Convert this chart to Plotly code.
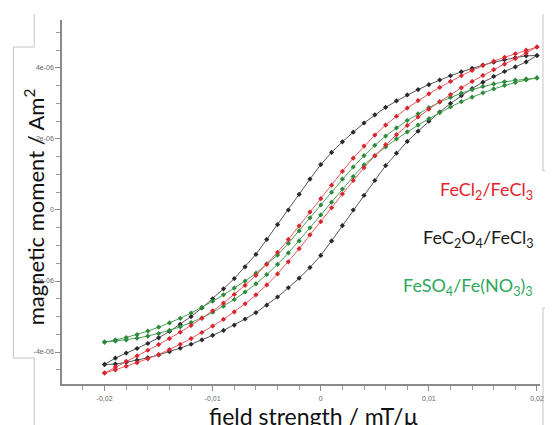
import plotly.graph_objects as go

# field strength grid (as on the axis)
field = [-0.020, -0.019, -0.018, -0.017, -0.016, -0.015, -0.014, -0.013, -0.012, -0.011,
         -0.010, -0.009, -0.008, -0.007, -0.006, -0.005, -0.004, -0.003, -0.002, -0.001,
         0.000, 0.001, 0.002, 0.003, 0.004, 0.005, 0.006, 0.007, 0.008, 0.009,
         0.010, 0.011, 0.012, 0.013, 0.014, 0.015, 0.016, 0.017, 0.018, 0.019, 0.020]

# magnetic moment in units of 1e-6 Am^2
# FeCl2/FeCl3 (red)
red_upper = [-4.59, -4.42, -4.26, -4.11, -3.95, -3.79, -3.62, -3.44, -3.25, -3.05,
             -2.84, -2.62, -2.38, -2.12, -1.84, -1.53, -1.19, -0.83, -0.45, -0.06,
             0.32, 0.70, 1.09, 1.46, 1.80, 2.11, 2.39, 2.64, 2.87, 3.08,
             3.27, 3.45, 3.62, 3.78, 3.93, 4.07, 4.19, 4.30, 4.40, 4.50, 4.59]
red_lower = [-4.59, -4.50, -4.40, -4.30, -4.19, -4.07, -3.93, -3.78, -3.62, -3.45,
             -3.27, -3.08, -2.87, -2.64, -2.39, -2.11, -1.80, -1.46, -1.09, -0.70,
             -0.33, 0.06, 0.45, 0.83, 1.19, 1.53, 1.84, 2.12, 2.38, 2.62,
             2.84, 3.05, 3.25, 3.44, 3.62, 3.79, 3.95, 4.11, 4.26, 4.42, 4.59]

# FeC2O4/FeCl3 (black)
black_upper = [-4.35, -4.17, -4.03, -3.90, -3.76, -3.60, -3.42, -3.22, -3.00, -2.76,
               -2.50, -2.22, -1.93, -1.60, -1.25, -0.83, -0.41, 0.00, 0.44, 0.87,
               1.28, 1.62, 1.92, 2.19, 2.45, 2.68, 2.89, 3.07, 3.24, 3.39,
               3.53, 3.66, 3.78, 3.89, 3.99, 4.08, 4.16, 4.23, 4.29, 4.34, 4.35]
black_lower = [-4.35, -4.34, -4.29, -4.23, -4.16, -4.08, -3.99, -3.89, -3.78, -3.66,
               -3.53, -3.39, -3.24, -3.07, -2.89, -2.68, -2.45, -2.19, -1.92, -1.62,
               -1.28, -0.87, -0.44, 0.00, 0.41, 0.83, 1.25, 1.60, 1.93, 2.22,
               2.50, 2.76, 3.00, 3.22, 3.42, 3.60, 3.76, 3.90, 4.03, 4.17, 4.35]

# FeSO4/Fe(NO3)3 (green)
green_upper = [-3.72, -3.66, -3.59, -3.51, -3.41, -3.30, -3.18, -3.05, -2.90, -2.74,
               -2.57, -2.39, -2.20, -2.00, -1.78, -1.52, -1.27, -0.94, -0.59, -0.22,
               0.14, 0.50, 0.87, 1.21, 1.53, 1.82, 2.08, 2.31, 2.52, 2.71,
               2.88, 3.04, 3.17, 3.29, 3.39, 3.48, 3.55, 3.61, 3.66, 3.69, 3.72]
green_lower = [-3.72, -3.69, -3.66, -3.61, -3.55, -3.48, -3.39, -3.29, -3.17, -3.04,
               -2.88, -2.71, -2.52, -2.31, -2.08, -1.82, -1.53, -1.21, -0.87, -0.50,
               -0.14, 0.22, 0.59, 0.94, 1.27, 1.52, 1.78, 2.00, 2.20, 2.39,
               2.57, 2.74, 2.90, 3.05, 3.18, 3.30, 3.41, 3.51, 3.59, 3.66, 3.72]

x_tickvals = [-0.02, -0.01, 0, 0.01, 0.02]
x_ticktext = ["-0,02", "-0,01", "0", "0,01", "0,02"]
y_tickvals = [-4, -2, 0, 2, 4]
y_ticktext = ["-4e-06", "-2e-06", "0", "2e-06", "4e-06"]

legend_labels = ["FeCl<sub>2</sub>/FeCl<sub>3</sub>",
                 "FeC<sub>2</sub>O<sub>4</sub>/FeCl<sub>3</sub>",
                 "FeSO<sub>4</sub>/Fe(NO<sub>3</sub>)<sub>3</sub>"]
legend_colors = ["#e5222c", "#1a1a1a", "#2fa85a"]

series = [
    ("FeC2O4/FeCl3", black_upper, black_lower, "#555555", "#2a2a2a"),
    ("FeSO4/Fe(NO3)3", green_upper, green_lower, "#4aa456", "#2e8a3c"),
    ("FeCl2/FeCl3", red_upper, red_lower, "#ec5a60", "#d8262e"),
]

fig = go.Figure()
for name, up, lo, lc, mc in series:
    xs = list(reversed(field)) + field
    ys = list(reversed(up)) + lo
    fig.add_trace(go.Scatter(
        x=xs, y=ys, mode="lines+markers", name=name,
        line=dict(color=lc, width=1),
        marker=dict(symbol="diamond", size=4, color=mc),
        showlegend=False,
    ))

axis_font = dict(family="Liberation Sans Narrow, Liberation Sans", size=7, color="#666666")

fig.update_xaxes(
    range=[-0.02394, 0.02028], tickvals=x_tickvals, ticktext=x_ticktext,
    showgrid=False, zeroline=False, showline=True, linecolor="#8a8a8a", linewidth=1.5,
    ticks="outside", ticklen=5, tickcolor="#8a8a8a", tickwidth=1,
    minor=dict(dtick=0.002, ticks="outside", ticklen=4, tickcolor="#9a9a9a", tick0=0),
    tickfont=axis_font, ticklabelstandoff=2,
)
fig.update_yaxes(
    range=[-4.9, 5.35], tickvals=y_tickvals, ticktext=y_ticktext,
    showgrid=False, zeroline=False, showline=True, linecolor="#8a8a8a", linewidth=1.5,
    ticks="outside", ticklen=5, tickcolor="#8a8a8a", tickwidth=1,
    minor=dict(dtick=0.5, ticks="outside", ticklen=4, tickcolor="#9a9a9a", tick0=0),
    tickfont=axis_font,
)

# The page body has an 8 px default margin: the figure is drawn 8 px in from the window corner.
OFF = 8
W, H = 553 - OFF, 425 - OFF
ML, MR, MT, MB = 62 - OFF, 9, 20 - OFF, 41
PW, PH = W - ML - MR, H - MT - MB

def px(xa):
    return (xa - OFF - ML) / PW

def py(ya):
    return (H - MB - (ya - OFF)) / PH

annotations = [
    dict(text="magnetic moment / Am<sup>2</sup>", x=px(35), y=py(207), xref="paper", yref="paper",
         textangle=-90, showarrow=False, xanchor="center", yanchor="middle",
         font=dict(family="Lato", size=22, color="#111111")),
    dict(text="field strength / mT/µ", x=px(316), y=py(400), xref="paper", yref="paper",
         showarrow=False, xanchor="center", yanchor="top",
         font=dict(family="Lato", size=23, color="#111111")),
]
for lab, col, yc in zip(legend_labels, legend_colors, [190, 238, 286]):
    annotations.append(dict(text=lab, x=px(539), y=py(yc), xref="paper", yref="paper",
                            showarrow=False, xanchor="right", yanchor="middle",
                            font=dict(family="Lato", size=18, color=col)))

box_line = dict(color="#c4c4c4", width=1)
shapes = []
segs = [
    (34, 14, 34, 47), (13, 47, 34, 47), (13, 47, 13, 358), (13, 358, 34, 358), (34, 358, 34, 425),
    (547, 14, 547, 171), (547, 171, 553, 171), (547, 308, 553, 308), (547, 308, 547, 425),
]
for x0, y0, x1, y1 in segs:
    shapes.append(dict(type="line", xref="paper", yref="paper",
                       x0=px(x0), y0=py(y0), x1=px(x1), y1=py(y1), line=box_line, layer="below"))

fig.update_layout(
    width=W, height=H, margin=dict(l=ML, r=MR, t=MT, b=MB),
    paper_bgcolor="white", plot_bgcolor="white",
    annotations=annotations, shapes=shapes, showlegend=False,
)

fig.write_html("out.html")
